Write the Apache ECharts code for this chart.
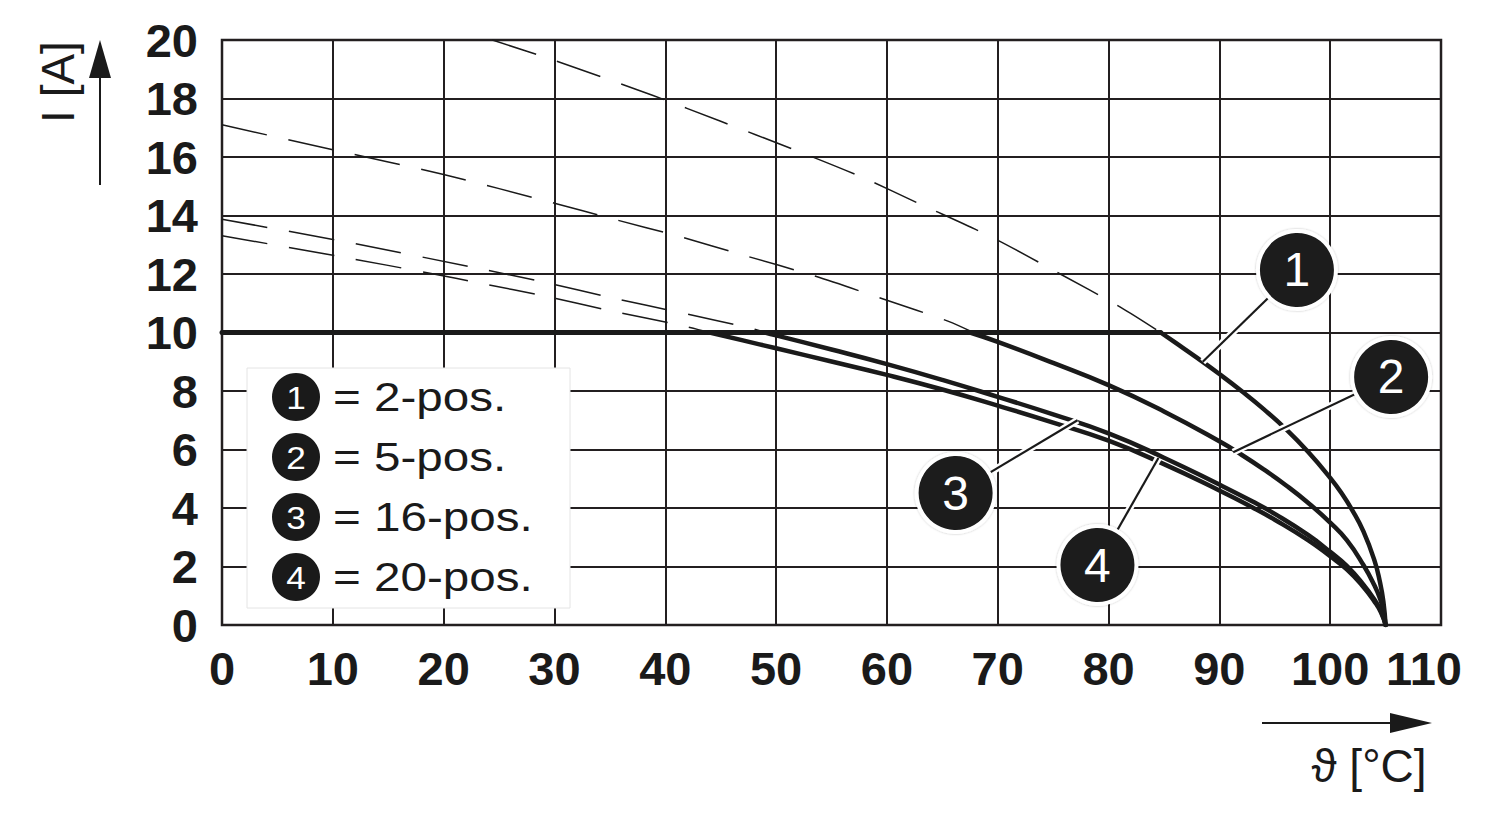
<!DOCTYPE html>
<html>
<head>
<meta charset="utf-8">
<script src="https://cdn.jsdelivr.net/npm/echarts@6/dist/echarts.min.js"></script>
<style>
html,body{margin:0;padding:0;background:#fff;}
#chart{width:1500px;height:820px;}
</style>
</head>
<body>
<div id="chart"></div>
<script>
// ---- data ----
const ceiling10A = [[0, 10], [84.7, 10]];

const curve1 = [[84.7,10],[86,9.66],[88,9.13],[90,8.58],[92,8.0],[94,7.38],[96,6.7],[98,5.92],[100,5.03],[101,4.52],[102,3.92],[103,3.2],[104,2.2],[104.5,1.45],[104.8,0.8],[105,0]];
const curve2 = [[67.5,10],[70,9.68],[75,8.96],[80,8.2],[85,7.3],[90,6.28],[92,5.82],[94,5.32],[96,4.78],[98,4.18],[100,3.5],[101.5,2.9],[103,2.05],[104,1.35],[104.5,0.9],[104.8,0.5],[105,0]];
const curve3 = [[49,10],[50,9.9],[55,9.42],[60,8.92],[65,8.38],[70,7.8],[75,7.2],[80,6.55],[85,5.72],[90,4.8],[93,4.22],[95,3.8],[98,3.08],[100,2.5],[101.5,2.02],[103,1.38],[104,0.86],[104.6,0.46],[105,0]];
const curve4 = [[44,10],[47,9.73],[50,9.46],[55,9.01],[60,8.55],[65,8.05],[70,7.5],[75,6.92],[80,6.3],[85,5.5],[90,4.6],[93,4.02],[95,3.6],[98,2.9],[100,2.35],[101.5,1.9],[103,1.3],[104,0.8],[104.6,0.42],[105,0]];

const dashed1 = [[24.4,20],[30,19.3],[38.9,18.1],[45,17.22],[51.3,16.3],[57.5,15.35],[63,14.39],[69.5,13.25],[75.2,12.09],[81.1,10.86],[84.7,10]];
const dashed2 = [[0,17.1],[10,16.25],[20,15.4],[30,14.42],[35.1,13.9],[41.3,13.28],[47,12.65],[53.5,11.93],[60,11.1],[65.5,10.39],[67.8,10]];
const dashed3 = [[0,13.87],[10.6,13.14],[23,12.2],[29.3,11.7],[35,11.2],[41.6,10.66],[47.8,10.14],[49,10]];
const dashed4 = [[0,13.31],[10.6,12.6],[19.1,12.0],[23.1,11.7],[29.3,11.23],[35,10.75],[41.7,10.22],[44,10]];

const calloutNumbers = ['1', '2', '3', '4'];
const calloutCircles = [[97.0,12.14],[105.5,8.48],[66.2,4.51],[79.0,2.05]];
const calloutTargets = [[88.5,9.0],[91.25,5.91],[77.2,7.0],[84.5,5.71]];
const legendLabels = ['= 2-pos.', '= 5-pos.', '= 16-pos.', '= 20-pos.'];
const yTitle = 'I [A]';
const xTitle = 'ϑ [°C]';

// ---- chart ----
const INK = '#1a1a1a';
const FONT = '"Liberation Sans", Arial, Helvetica, sans-serif';
const chart = echarts.init(document.getElementById('chart'), null, {renderer: 'svg'});

function solid(name, data, w) {
  return {name, type: 'line', data, showSymbol: false, smooth: 0.5,
    lineStyle: {color: INK, width: w, cap: 'round', join: 'round'}, z: 5, silent: true, animation: false};
}
function dashed(name, data) {
  return {name, type: 'line', data, showSymbol: false, smooth: 0.3,
    lineStyle: {color: INK, width: 1.5, type: [46, 22]}, z: 4, silent: true, animation: false};
}

const leaderData = calloutCircles.map((c, i) => ({coords: [c, calloutTargets[i]]}));

const legendGraphics = [{
  type: 'rect', shape: {x: 247, y: 368, width: 323, height: 240},
  style: {fill: '#fff', stroke: '#e4e4e4', lineWidth: 1}, z: 100
}];
legendLabels.forEach((lab, i) => {
  const cy = 397 + i * 60;
  legendGraphics.push({type: 'circle', shape: {cx: 296, cy: cy, r: 24}, style: {fill: INK}, z: 101});
  legendGraphics.push({type: 'text', x: 296, y: cy + 1, scaleX: 1.1, style: {text: calloutNumbers[i], fill: '#fff', font: '32px ' + FONT, align: 'center', verticalAlign: 'middle'}, z: 102});
  legendGraphics.push({type: 'text', x: 333, y: cy, scaleX: 1.19, style: {text: lab, fill: INK, font: '40px ' + FONT, align: 'left', verticalAlign: 'middle'}, z: 102});
});

const option = {
  backgroundColor: '#fff',
  animation: false,
  grid: {left: 222, right: 59, top: 40, bottom: 195, show: true, borderColor: '#231f20', borderWidth: 2.5, backgroundColor: 'transparent'},
  xAxis: {
    type: 'value', min: 0, max: 110, interval: 10,
    axisLine: {show: false}, axisTick: {show: false},
    splitLine: {show: true, lineStyle: {color: '#231f20', width: 2}},
    axisLabel: {
      margin: 20, color: INK, fontSize: 47, fontWeight: 'bold', fontFamily: FONT,
      formatter: v => v === 110 ? '{s|110}' : String(v),
      rich: {s: {fontSize: 47, fontWeight: 'bold', fontFamily: FONT, color: INK, padding: [0, 34, 0, 0]}}
    }
  },
  yAxis: {
    type: 'value', min: 0, max: 20, interval: 2,
    axisLine: {show: false}, axisTick: {show: false},
    splitLine: {show: true, lineStyle: {color: '#231f20', width: 2}},
    axisLabel: {margin: 24, color: INK, fontSize: 47, fontWeight: 'bold', fontFamily: FONT}
  },
  series: [
    dashed('d1', dashed1), dashed('d2', dashed2), dashed('d3', dashed3), dashed('d4', dashed4),
    solid('10 A', ceiling10A, 5),
    solid('2-pos.', curve1, 4.5), solid('5-pos.', curve2, 4.5),
    solid('16-pos.', curve3, 4.5), solid('20-pos.', curve4, 4.5),
    {type: 'lines', coordinateSystem: 'cartesian2d', data: leaderData, silent: true, z: 8,
      lineStyle: {color: '#fff', width: 7, opacity: 1, curveness: 0}, effect: {show: false}},
    {type: 'lines', coordinateSystem: 'cartesian2d', data: leaderData, silent: true, z: 9,
      lineStyle: {color: INK, width: 2.2, opacity: 1, curveness: 0}, effect: {show: false}},
    {type: 'scatter', data: calloutCircles, symbol: 'circle', symbolSize: 78, z: 10, silent: true, clip: false,
      itemStyle: {color: INK, opacity: 1, borderColor: '#fff', borderWidth: 4, shadowBlur: 2, shadowColor: 'rgba(0,0,0,0.25)'},
      label: {show: true, position: 'inside', formatter: p => calloutNumbers[p.dataIndex], color: '#fff', fontSize: 48, fontFamily: FONT}}
  ],
  graphic: [
    ...legendGraphics,
    {type: 'text', x: 58, y: 82, rotation: Math.PI / 2, style: {text: yTitle, fill: INK, font: '46px ' + FONT, align: 'center', verticalAlign: 'middle'}},
    {type: 'line', shape: {x1: 100, y1: 185, x2: 100, y2: 70}, style: {stroke: INK, lineWidth: 2}},
    {type: 'polygon', shape: {points: [[89, 78], [111, 78], [100, 40]]}, style: {fill: INK}},
    {type: 'line', shape: {x1: 1262, y1: 723, x2: 1400, y2: 723}, style: {stroke: INK, lineWidth: 2}},
    {type: 'polygon', shape: {points: [[1390, 713], [1390, 733], [1432, 723]]}, style: {fill: INK}},
    {type: 'text', x: 1369, y: 766, style: {text: xTitle, fill: INK, font: '46px ' + FONT, align: 'center', verticalAlign: 'middle'}}
  ]
};
chart.setOption(option);
</script>
</body>
</html>
